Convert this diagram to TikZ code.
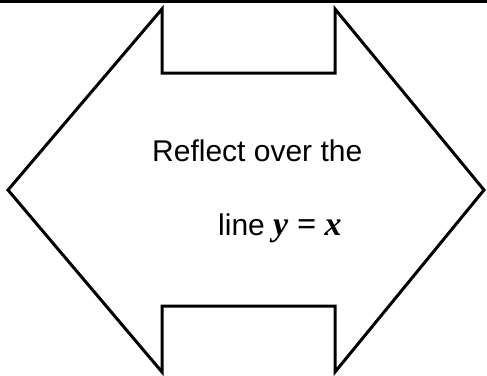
\documentclass[tikz,border=0pt]{standalone}
\usepackage{fontspec}
\setmainfont{Liberation Sans}
\newfontfamily\tnrfont{Liberation Serif}
\tikzset{
  outline/.style={draw=black, line width=3pt, line join=miter},
  label/.style={inner sep=0pt, anchor=base west, font=\fontsize{30}{36}\selectfont}
}
\newcommand{\mathvar}[1]{{\tnrfont\bfseries\itshape\fontsize{34}{40}\selectfont #1}}
\begin{document}
\begin{tikzpicture}[x=1pt,y=-1pt]
\useasboundingbox (0,0) rectangle (487,375);
\fill[black] (0,0) rectangle (487,3);
\draw[outline] (8,190) -- (162,9) -- (162,73) -- (335,73) -- (335,9) -- (484,190)
  -- (335,372) -- (335,306) -- (162,306) -- (162,372) -- cycle;
\node[label] (l1) at (152,161) {Reflect over the};
\node[label] (l2) at (218,235) {line \mathvar{y = x}};
\end{tikzpicture}
\end{document}
